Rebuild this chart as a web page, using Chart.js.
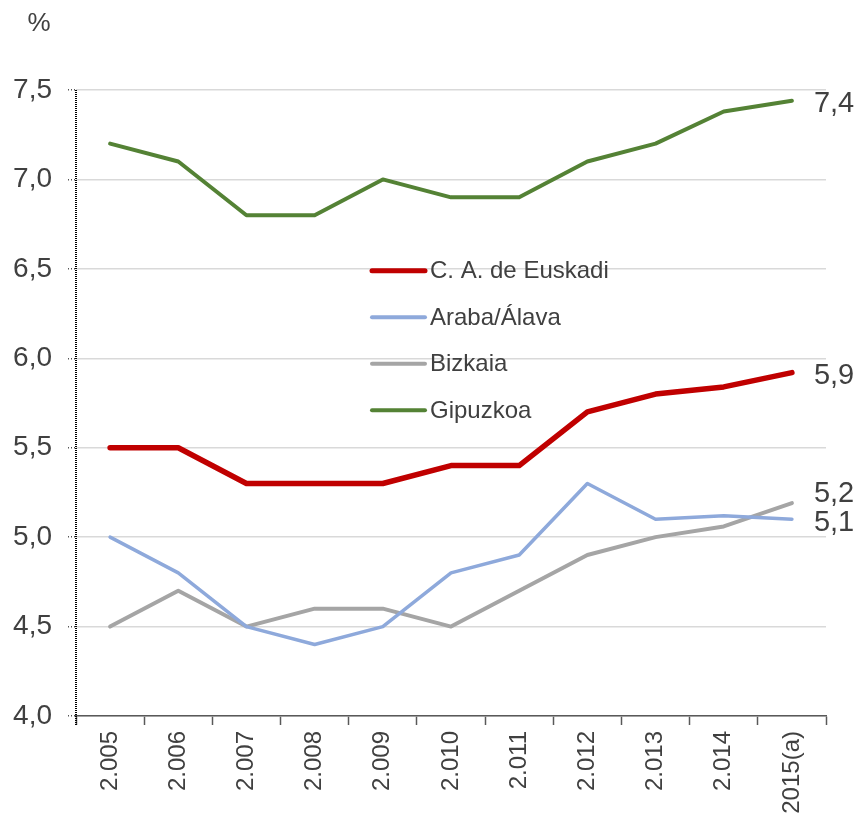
<!DOCTYPE html>
<html>
<head>
<meta charset="utf-8">
<script src="https://cdn.jsdelivr.net/npm/chart.js@4.4.0/dist/chart.umd.min.js"></script>
<style>
  html, body { margin: 0; padding: 0; background: #fff; }
  #grafico { display: block; }
</style>
</head>
<body>
<canvas id="grafico" width="860" height="816"></canvas>
<script>
const anios = ['2.005', '2.006', '2.007', '2.008', '2.009', '2.010', '2.011', '2.012', '2.013', '2.014', '2015(a)'];
const euskadi = [5.5, 5.5, 5.3, 5.3, 5.3, 5.4, 5.4, 5.7, 5.8, 5.84, 5.92];
const araba = [5.0, 4.8, 4.5, 4.4, 4.5, 4.8, 4.9, 5.3, 5.1, 5.12, 5.1];
const bizkaia = [4.5, 4.7, 4.5, 4.6, 4.6, 4.5, 4.7, 4.9, 5.0, 5.06, 5.19];
const gipuzkoa = [7.2, 7.1, 6.8, 6.8, 7.0, 6.9, 6.9, 7.1, 7.2, 7.38, 7.44];
const nombres = ['C. A. de Euskadi', 'Araba/Álava', 'Bizkaia', 'Gipuzkoa'];
const etiquetasFinales = ['5,9', '5,1', '5,2', '7,4'];
const colores = ['#C00000', '#8EA9DB', '#A5A5A5', '#548235'];
const grosores = [5.5, 3.5, 4, 4];

const fuente = "'Liberation Sans', Arial, sans-serif";
const gris = '#404040';

// leyenda, titulo del eje, eje punteado y valores finales
const extras = {
    id: 'extras',
    afterDraw(chart) {
        const ctx = chart.ctx;
        const area = chart.chartArea;
        ctx.save();

        // eje vertical punteado
        ctx.strokeStyle = '#000';
        ctx.lineWidth = 2;
        ctx.setLineDash([1, 1]);
        ctx.beginPath();
        ctx.moveTo(area.left, area.top);
        ctx.lineTo(area.left, area.bottom + 9);
        ctx.stroke();
        ctx.setLineDash([]);

        ctx.fillStyle = gris;
        ctx.font = '26px ' + fuente;
        ctx.textAlign = 'center';
        ctx.textBaseline = 'middle';
        ctx.fillText('%', 39, 24);

        // valores al final de cada linea
        ctx.font = '29px ' + fuente;
        ctx.textAlign = 'left';
        const ajuste = [3, 4, -9, 3];
        chart.data.datasets.forEach((ds, i) => {
            const meta = chart.getDatasetMeta(i);
            const p = meta.data[meta.data.length - 1];
            ctx.fillText(etiquetasFinales[i], p.x + 22, p.y + ajuste[i]);
        });

        // leyenda
        ctx.font = '24px ' + fuente;
        const y = chart.scales.y;
        const x0 = 372;
        chart.data.datasets.forEach((ds, i) => {
            const fila = y.getPixelForValue(6.49) + i * 46.5;
            ctx.strokeStyle = ds.borderColor;
            ctx.lineWidth = i === 0 ? 5 : 4;
            ctx.lineCap = 'round';
            ctx.beginPath();
            ctx.moveTo(x0, fila);
            ctx.lineTo(x0 + 53, fila);
            ctx.stroke();
            ctx.fillStyle = gris;
            ctx.fillText(ds.label, x0 + 58, fila + 1);
        });
        ctx.restore();
    }
};

const series = [euskadi, araba, bizkaia, gipuzkoa];

new Chart(document.getElementById('grafico'), {
    type: 'line',
    data: {
        labels: anios,
        datasets: series.map((s, i) => ({
            label: nombres[i],
            data: s,
            borderColor: colores[i],
            backgroundColor: colores[i],
            borderWidth: grosores[i],
            pointRadius: 0,
            tension: 0,
            borderCapStyle: 'round',
            borderJoinStyle: 'round',
            fill: false
        }))
    },
    options: {
        responsive: false,
        animation: false,
        devicePixelRatio: 1,
        layout: { padding: { top: 90, right: 34, left: 0, bottom: 0 } },
        plugins: {
            legend: { display: false },
            tooltip: { enabled: false }
        },
        scales: {
            x: {
                offset: true,
                afterFit(scale) { scale.height = 100; },
                grid: {
                    offset: true,
                    drawOnChartArea: false,
                    drawTicks: true,
                    tickLength: 9,
                    tickColor: '#595959',
                    tickWidth: 1.5
                },
                border: { color: '#595959', width: 1.5 },
                ticks: {
                    color: gris,
                    font: { family: fuente, size: 24 },
                    minRotation: 90,
                    maxRotation: 90,
                    padding: 6,
                    autoSkip: false
                }
            },
            y: {
                min: 4,
                max: 7.5,
                afterFit(scale) { scale.width = 76; },
                grid: {
                    color: '#D9D9D9',
                    lineWidth: 1.5,
                    tickLength: 8,
                    tickColor: '#555555',
                    tickBorderDash: [1, 2]
                },
                border: { display: false },
                ticks: {
                    stepSize: 0.5,
                    color: gris,
                    padding: 16,
                    font: { family: fuente, size: 28 },
                    callback: v => v.toFixed(1).replace('.', ',')
                }
            }
        }
    },
    plugins: [extras]
});
</script>
</body>
</html>
